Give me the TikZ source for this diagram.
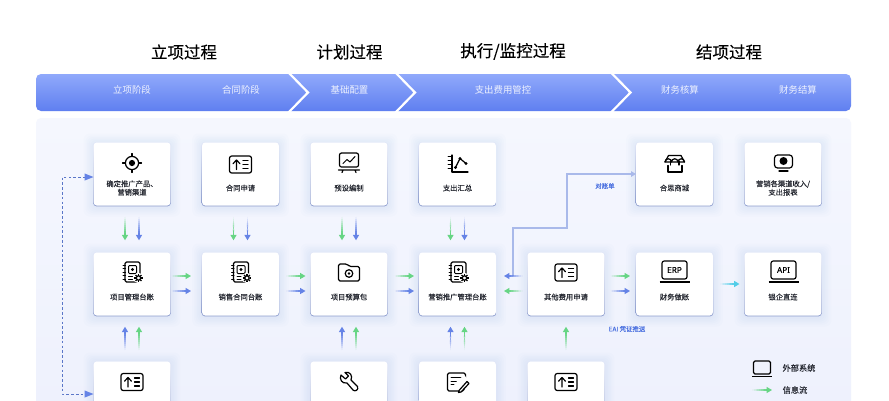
\documentclass[tikz,border=0pt]{standalone}
\usepackage{fontspec}
\setmainfont{Noto Sans CJK SC}
\newfontfamily\titlefont[FakeBold=0.25]{Noto Sans CJK SC}
\newfontfamily\cardfont[FakeBold=0.12]{Noto Sans CJK SC}
\newfontfamily\latinfont[FakeBold=0.1]{Noto Sans}
\usetikzlibrary{calc,arrows.meta}
\definecolor{flowgreen}{HTML}{66D584}
\definecolor{flowblue}{HTML}{6583E6}
\definecolor{flowcyan}{HTML}{52CDE8}
\definecolor{routeblue}{HTML}{A9B9EA}
\definecolor{dashblue}{HTML}{5A76C8}
\definecolor{inktext}{HTML}{23262F}
\definecolor{notelabel}{HTML}{4A70E0}
\definecolor{bandtop}{HTML}{90A9FB}
\definecolor{bandmid}{HTML}{7D98F6}
\definecolor{bandbot}{HTML}{5F7FF0}
\definecolor{paneltop}{HTML}{F5F7FE}
\definecolor{panelbot}{HTML}{EEF1FD}
\definecolor{edgetop}{HTML}{E3E8F8}
\definecolor{edgebot}{HTML}{8C9CCD}
\tikzset{
  ttl/.style={font=\titlefont\fontsize{16.5}{18}\selectfont,text=black,inner sep=0},
  bandlbl/.style={font=\fontsize{9.4}{11}\selectfont,text=white,text opacity=.88,inner sep=0},
  cardlbl/.style={font=\cardfont\fontsize{7.3}{9}\selectfont,text=inktext,inner sep=0,align=center},
  notelbl/.style={font=\cardfont\fontsize{6.4}{8}\selectfont,text=notelabel,inner sep=0},
  legendlbl/.style={font=\cardfont\fontsize{8.2}{10}\selectfont,text=inktext,inner sep=0},
  cardbox/.style={fill=white,rounded corners=3pt,minimum width=76.6pt,minimum height=63pt,inner sep=0},
  ic/.style={line width=1.2pt,draw=black,line join=round,line cap=round},
  pics/docup/.style={code={
    \draw[ic,rounded corners=2.2pt] (-11,-8.5) rectangle (11,8.5);
    \draw[ic] (-4,5) -- (-4,-4.2) (-7.5,-.8) -- (-4,-4.5) -- (-.5,-.8);
    \draw[ic] (2.5,-4) -- (7.5,-4) (2.5,0) -- (7.5,0) (2.5,4) -- (7.5,4);
  }},
  pics/ledger/.style={code={
    \draw[ic,rounded corners=1.5pt] (-7,-10) rectangle (8,10);
    \foreach \yy in {-7,-3.5,0,3.5,7}{\draw[ic,line width=1pt] (-9,\yy) -- (-6.5,\yy);}
    \draw[ic,line width=1pt,rounded corners=1pt] (-3.5,-6.5) rectangle (4.5,1.5);
    \fill (.5,-2.5) circle (1.6);
    \draw[ic,line width=1pt] (-3.5,4.5) -- (0.5,4.5) (-3.5,7.5) -- (0.5,7.5);
    \fill[white] (6.5,6) circle (5.2);
    \foreach \aa in {0,45,...,315}{\draw[line width=1.3pt,black] (6.5,6) ++(\aa:2.5) -- ++(\aa:1.7);}
    \draw[line width=1.2pt,black] (6.5,6) circle (2.2);
  }},
  pics/laptop/.style n args={3}{code={
    \draw[ic,rounded corners=2.2pt] (-#1,-#2) rectangle (#1,#2);
    \draw[line width=#3,black] (-#1-2.5,#2+3) -- (#1+2.5,#2+3);
  }},
  glow/.style={fill=flowblue,opacity=.016,rounded corners=6pt}
}
\newcommand{\card}[4]{%
  \foreach \gg in {2,3.5,5,6.5,8,10}{\fill[glow] (#2-38.3-\gg,#3-31.5-\gg+1) rectangle (#2+38.3+\gg,#3+31.5+\gg+1);}
  \shade[top color=edgetop,bottom color=edgebot,rounded corners=3.5pt]
     (#2-38.9,#3-32) rectangle (#2+38.9,#3+32.4);
  \node[cardbox] (#1) at (#2,#3) {};
  #4
}
\newcommand{\flow}[4][1.15pt]{%
  \coordinate (fs) at (#2); \coordinate (fe) at (#3);
  \foreach \k in {0,...,8}{
    \pgfmathsetmacro\ta{\k/9*.8}\pgfmathsetmacro\tb{(\k+1)/9*.8}\pgfmathsetmacro\oo{min(1,.06+\k/8)}
    \draw[#4,line width=#1,opacity=\oo] ($(fs)!\ta!(fe)$) -- ($(fs)!\tb!(fe)$);
  }
  \draw[#4,line width=#1,-{Triangle[length=5.4pt,width=6pt]}] ($(fs)!.79!(fe)$) -- (fe);
}
\begin{document}
\begin{tikzpicture}[x=1pt,y=-1pt]
\useasboundingbox (0,0) rectangle (889,400);
\fill[white] (0,0) rectangle (889,400);
\shade[top color=paneltop,bottom color=panelbot,rounded corners=5pt] (36,118) rectangle (851,410);
\shade[top color=bandtop,middle color=bandmid,bottom color=bandbot,rounded corners=5pt] (36,74) rectangle (851,111);
\foreach \cx in {288,395,610.5}{
  \draw[white,line width=2.2pt,line join=miter] (\cx,72) -- (\cx+20,92.5) -- (\cx,113);
}
\node[ttl] (t1) at (184,52) {立项过程};
\node[ttl] (t2) at (349.5,52) {计划过程};
\node[ttl] (t3) at (513,51.5) {执行/监控过程};
\node[ttl] (t4) at (729,52) {结项过程};
\node[bandlbl] (p1) at (132,90) {立项阶段};
\node[bandlbl] (p2) at (241,90) {合同阶段};
\node[bandlbl] (p3) at (349.5,90) {基础配置};
\node[bandlbl] (p4) at (503,90) {支出费用管控};
\node[bandlbl] (p5) at (680,90) {财务核算};
\node[bandlbl] (p6) at (798,90) {财务结算};

\card{a1}{132}{174}{
  \node[cardlbl] (a1t) at (132,188) {确定推广产品、\\[-.5pt]营销渠道};
  \draw[ic] (132,163) circle (6.6);
  \fill (132,163) circle (3.1);
  \draw[ic] (132,153.5) -- (132,156.4) (132,169.6) -- (132,172.5) (122.5,163) -- (125.4,163) (138.6,163) -- (141.5,163);
}
\card{a2}{240.5}{174}{
  \node[cardlbl] (a2t) at (240.5,188) {合同申请};
  \pic at (240.5,164.5) {docup};
}
\card{a3}{349}{174}{
  \node[cardlbl] (a3t) at (349,188) {预设编制};
  \draw[ic,rounded corners=2pt] (339.5,153) rectangle (358.5,167);
  \draw[ic] (338.5,170) -- (359.5,170) (343,170) -- (342,172.5) (355,170) -- (356,172.5);
  \draw[ic,line width=1pt] (343,163.5) -- (347,159.5) -- (350,162) -- (355,156.5);
}
\card{a4}{457.5}{174}{
  \node[cardlbl] (a4t) at (457.5,188) {支出汇总};
  \draw[ic] (452,155) -- (452,172) -- (468,172);
  \draw[ic,line width=1pt] (448,156.5) -- (451,156.5) (448,160.5) -- (451,160.5) (448,164.5) -- (451,164.5) (448,168.5) -- (451,168.5);
  \draw[ic] (455.5,167.5) -- (460,158.5) -- (466,163.5);
  \fill (455.5,167.5) circle (1.6) (460,158.5) circle (1.6) (466,163.5) circle (1.6);
}
\card{a6}{674.5}{174}{
  \node[cardlbl] (a6t) at (674.5,188) {合思商城};
  \draw[ic] (668.5,155.5) -- (681,155.5) -- (684.5,162) -- (665,162) -- cycle;
  \draw[ic] (665,162) arc[start angle=180,end angle=360,radius=3.25] arc[start angle=180,end angle=360,radius=3.25] arc[start angle=180,end angle=360,radius=3.25];
  \draw[ic] (668,165.5) -- (668,172) -- (682,172) -- (682,165.5);
  \draw[ic] (670.5,161) -- (670.5,165) (679,161) -- (679,165);
}
\card{a7}{783}{174}{
  \node[cardlbl] (a7t) at (783,188) {营销各渠道收入/\\[-.5pt]支出报表};
  \draw[ic,rounded corners=3pt] (774.5,155) rectangle (792.5,168);
  \draw[ic] (779,171) -- (788,171);
  \fill (783.5,161) circle (4);
}
\card{b1}{132}{284}{
  \node[cardlbl] (b1t) at (132,297) {项目管理台账};
  \pic at (132,272) {ledger};
}
\card{b2}{240.5}{284}{
  \node[cardlbl] (b2t) at (240.5,297) {销售合同台账};
  \pic at (240.5,272) {ledger};
}
\card{b3}{349}{284}{
  \node[cardlbl] (b3t) at (349,297) {项目预算包};
  \draw[ic,rounded corners=1.5pt] (338.5,281) -- (338.5,264) -- (347,264) -- (349.5,266.5) -- (359.5,266.5) -- (359.5,281) -- cycle;
  \draw[ic] (349,273.5) circle (3.8);
  \fill (349,273.5) circle (1.4);
}
\card{b4}{457.5}{284}{
  \node[cardlbl] (b4t) at (457.5,297) {营销推广管理台账};
  \pic at (458,272) {ledger};
}
\card{b5}{566}{284}{
  \node[cardlbl] (b5t) at (566,297) {其他费用申请};
  \pic at (566,272.5) {docup};
}
\card{b6}{674.5}{284}{
  \node[cardlbl] (b6t) at (674.5,297) {财务做账};
  \pic at (674.5,270) {laptop={12.5}{9}{2pt}};
  \node[font=\latinfont\fontsize{8.2}{9}\selectfont,inner sep=0] (b6i) at (674.5,270) {ERP};
}
\card{b7}{783}{284}{
  \node[cardlbl] (b7t) at (783,297) {银企直连};
  \pic at (783.5,270) {laptop={12.5}{9}{2pt}};
  \node[font=\latinfont\fontsize{8.2}{9}\selectfont,inner sep=0] (b7i) at (783.5,270) {API};
}
\card{c1}{132}{393}{\pic at (132,382) {docup};}
\card{c3}{349}{393}{
  \draw[ic,line join=round] (341,375) .. controls (339,379) and (342,384) .. (347,383) -- (353,390) .. controls (355,392) and (359,390) .. (357.5,386.5) -- (351,380) .. controls (353,376) and (350,371) .. (345,372.5) -- (348.5,376) -- (345.5,379) -- cycle;
}
\card{c4}{457.5}{393}{
  \draw[ic,rounded corners=1.5pt] (464,384) -- (464,391) -- (447.5,391) -- (447.5,373) -- (465.5,373) -- (465.5,380);
  \draw[ic,line width=1pt] (451,377.5) -- (462,377.5) (451,381) -- (461,381) (451,384.5) -- (456,384.5);
  \fill[white] (454,384) -- (464,375) -- (470,381) -- (461,393) -- cycle;
  \draw[ic] (459,390.5) -- (467,381.5) -- (469,383.5) -- (461,392) -- (458.5,392.5) -- cycle;
}
\card{c5}{566}{393}{\pic at (566,382) {docup};}

\coordinate (bend1) at (62,177);
\coordinate (bend2) at (62,394);
\draw[dashblue,line width=.95pt,dash pattern=on 2.6pt off 2.2pt] ($(a1.west |- bend1)+(-8,0)$) -- (bend1) -- (bend2) -- ($(c1.west |- bend2)+(-8,0)$);
\fill[flowblue] (a1.west |- bend1) -- ++(-9,-3.6) -- ++(0,7.2) -- cycle;
\fill[flowblue] (c1.west |- bend2) -- ++(-9,-3.6) -- ++(0,7.2) -- cycle;
\coordinate (rt1) at (513,228);
\coordinate (rt2) at (567,228);
\coordinate (rt3) at (567,174);
\draw[routeblue,line width=1.6pt,-{Triangle[length=5pt,width=5.5pt]}] ($(b4.east)+(17,-8)$) -- (rt1) -- (rt2) -- (rt3) -- (a6.west |- rt3);
\node[notelbl] (n1) at (605,186) {对账单};
\node[notelbl] (n2) at (627,329) {EAI 凭证推送};

\foreach \u/\v in {a1/b1,a2/b2,a3/b3,a4/b4}{
  \flow{$(\u.south)+(-7,11)$}{$(\v.north)+(-7,-12)$}{flowgreen}
  \flow{$(\u.south)+(7,11)$}{$(\v.north)+(7,-12)$}{flowblue}
}
\foreach \u/\v in {c1/b1,c3/b3,c4/b4}{
  \flow{$(\u.north)+(-7,-11)$}{$(\v.south)+(-7,11)$}{flowblue}
  \flow{$(\u.north)+(7,-11)$}{$(\v.south)+(7,11)$}{flowgreen}
}
\flow{$(c5.north)+(0,-11)$}{$(b5.south)+(0,11)$}{flowgreen}
\foreach \u/\v/\s/\e in {b1/b2/1/-11,b2/b3/7/-5,b3/b4/7/-5,b5/b6/6/-6}{
  \flow{$(\u.east)+(\s,-8)$}{$(\v.west)+(\e,-8)$}{flowgreen}
  \flow{$(\u.east)+(\s,7)$}{$(\v.west)+(\e,7)$}{flowblue}
}
\flow{$(b5.west)+(-5,-8)$}{$(b4.east)+(8,-8)$}{flowblue}
\flow{$(b5.west)+(-5,7)$}{$(b4.east)+(8,7)$}{flowgreen}
\flow[2pt]{$(b6.east)+(7,0)$}{$(b7.west)+(-5,0)$}{flowcyan}
\draw[ic,rounded corners=1.5pt] (753.5,361) rectangle (770.5,374);
\draw[line width=1.4pt,black] (752,376.5) -- (772,376.5);
\node[legendlbl] (l1) at (799,368) {外部系统};
\coordinate (ls) at (752,390);
\coordinate (le) at (772,390);
\flow{ls}{le}{flowgreen}
\node[legendlbl] (l2) at (795,390) {信息流};
\end{tikzpicture}
\end{document}
